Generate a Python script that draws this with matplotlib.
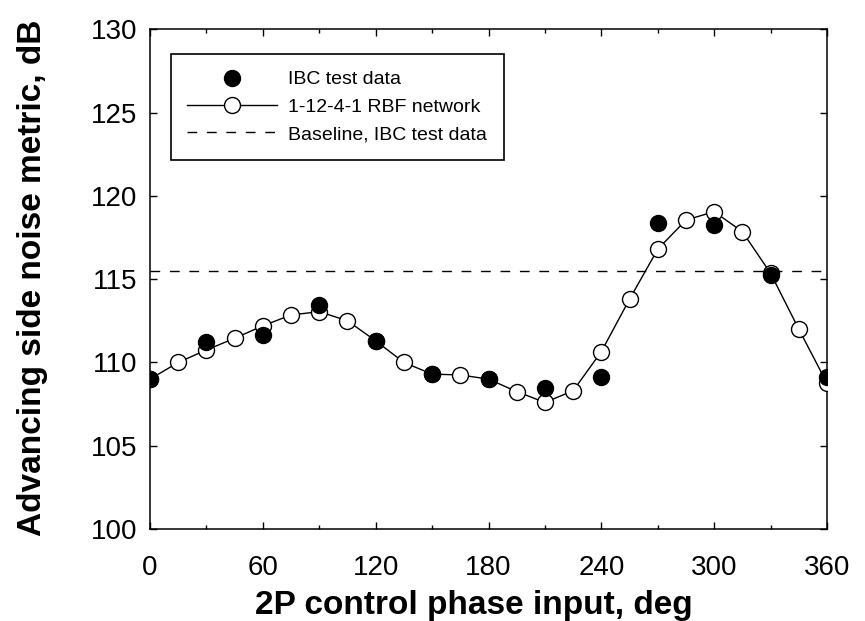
import matplotlib
matplotlib.use('Agg')
import matplotlib.pyplot as plt
import numpy as np

plt.rcParams['font.family'] = ['Liberation Sans', 'DejaVu Sans']

# IBC test data, every 30 deg
test_phase = [0, 30, 60, 90, 120, 150, 180, 210, 240, 270, 300, 330, 360]
test_noise = [109.0, 111.25, 111.65, 113.45, 111.3, 109.3, 109.0, 108.45,
              109.15, 118.4, 118.25, 115.25, 109.1]

# 1-12-4-1 RBF network output, every 15 deg
rbf_phase = [0, 15, 30, 45, 60, 75, 90, 105, 120, 135, 150, 165, 180,
             195, 210, 225, 240, 255, 270, 285, 300, 315, 330, 345, 360]
rbf_noise = [109.0, 110.0, 110.75, 111.45, 112.2, 112.85, 113.05, 112.5,
             111.3, 110.0, 109.3, 109.25, 109.0, 108.25, 107.6, 108.3,
             110.65, 113.8, 116.8, 118.55, 119.05, 117.85, 115.35, 112.0,
             108.75]

baseline = 115.5

fig = plt.figure(figsize=(8.65, 6.21), dpi=100)
ax = fig.add_axes([0.1734, 0.1481, 0.7827, 0.8047])

ax.plot(test_phase, test_noise, 'o', color='black', markersize=11.5,
        linestyle='none', label='IBC test data', zorder=4)
ax.plot(rbf_phase, rbf_noise, '-o', color='black', linewidth=1.0,
        markersize=11.5, markerfacecolor='white', markeredgewidth=1.0,
        label='1-12-4-1 RBF network', zorder=3)
ax.axhline(baseline, color='black', linewidth=1.0, dashes=(7, 7),
           label='Baseline, IBC test data', zorder=2)

ax.set_xlim(0, 360)
ax.set_ylim(100, 130)
ax.set_xticks(np.arange(0, 361, 60))
ax.set_xticks(np.arange(30, 361, 60), minor=True)
ax.set_yticks(np.arange(100, 131, 5))

ax.tick_params(which='both', direction='in', top=True, right=True,
               labelsize=20, width=1.0)
ax.tick_params(which='major', length=5)
ax.tick_params(which='minor', length=3)
ax.tick_params(axis='x', pad=19)
ax.tick_params(axis='y', pad=9)
for s in ax.spines.values():
    s.set_linewidth(1.1)

ax.set_xlabel('2P control phase input, deg', fontsize=24,
              fontweight='bold')
ax.set_ylabel('Advancing side noise metric, dB', fontsize=24,
              fontweight='bold')
ax.xaxis.set_label_coords(0.479, -0.122)
ax.yaxis.set_label_coords(-0.151, 0.503)

leg = ax.legend(loc='upper left', bbox_to_anchor=(0.0306, 0.950),
                borderaxespad=0, fontsize=14, fancybox=False,
                edgecolor='black', framealpha=1, handlelength=4.6,
                handletextpad=0.6, borderpad=0.85, numpoints=1)
leg.get_frame().set_linewidth(1.2)

fig.savefig('out.png', dpi=100)
